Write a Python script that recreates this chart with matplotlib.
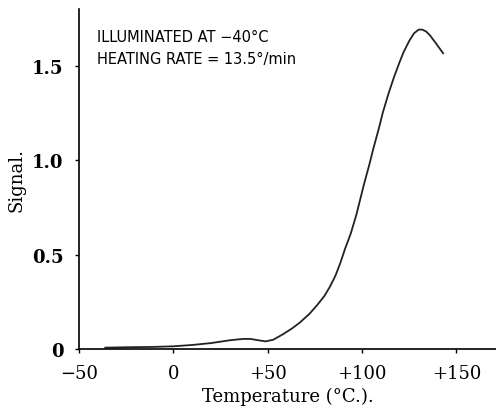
import matplotlib.pyplot as plt

# values
temp = [-36, -25, -10, 0, 10, 20, 30, 37, 41, 45, 49, 53, 58, 63, 67, 72, 76, 80, 83, 86,
        88.5, 91, 94, 97, 99, 101, 104, 106, 109, 111, 114, 117, 120, 122, 125, 127.5,
        130, 132, 134, 136, 139, 143]
signal = [0.008, 0.01, 0.012, 0.015, 0.022, 0.032, 0.047, 0.054, 0.054, 0.047, 0.041, 0.05,
          0.078, 0.11, 0.14, 0.185, 0.23, 0.28, 0.33, 0.39, 0.455, 0.53, 0.61, 0.71, 0.79,
          0.87, 0.98, 1.06, 1.17, 1.25, 1.35, 1.44, 1.52, 1.57, 1.63, 1.67, 1.69, 1.69, 1.68,
          1.66, 1.62, 1.565]
xticks = [-50, 0, 50, 100, 150]
xticklabels = ["\u221250", "0", "+50", "+100", "+150"]
yticks = [0, 0.5, 1.0, 1.5]
yticklabels = ["0", "0.5", "1.0", "1.5"]

fig = plt.figure(figsize=(4.96, 4.10), dpi=100)
ax = fig.add_axes([0.159, 0.146, 0.841, 0.83])
ax.plot(temp, signal, color="#222222", lw=1.3)
ax.set_xlim(-50, 171)
ax.set_ylim(0, 1.8)
ax.spines["top"].set_visible(False)
ax.spines["right"].set_visible(False)
for s in ("left", "bottom"):
    ax.spines[s].set_linewidth(1.2)
ax.set_xticks(xticks)
ax.set_xticklabels(xticklabels, family="DejaVu Serif", fontsize=13)
ax.set_yticks(yticks)
ax.set_yticklabels(yticklabels, family="DejaVu Serif", fontsize=13, fontweight="bold")
ax.tick_params(length=3, width=1)
ax.tick_params(axis="x", pad=8)
ax.tick_params(axis="y", pad=8)
ax.set_xlabel("Temperature (\u00b0C.).", family="DejaVu Serif", fontsize=13, labelpad=3)
ax.set_ylabel("Signal.", family="DejaVu Serif", fontsize=13, labelpad=5)
ax.text(-40.5, 1.63, "ILLUMINATED AT \u221240\u00b0C", fontsize=10.5)
ax.text(-40.5, 1.515, "HEATING RATE = 13.5\u00b0/min", fontsize=10.5)
fig.savefig("out.png", dpi=100)
